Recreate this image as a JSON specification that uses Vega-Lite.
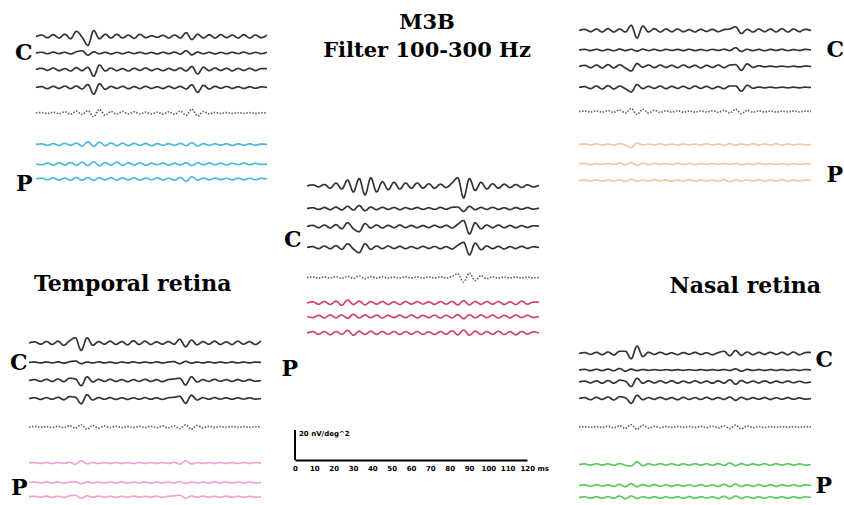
{
"$schema": "https://vega.github.io/schema/vega-lite/v6.json",
"autosize": {"type": "pad"},
"padding": {"left": 9, "top": 0, "right": 0, "bottom": 0},
"background": "white",
"config": {
  "view": {"stroke": null},
  "axisY": {"ticks": false, "domain": false, "grid": false, "labelFont": "DejaVu Serif", "labelFontWeight": "bold", "labelFontSize": 22, "labelColor": "black"}
},
"datasets": {
"tl": [
{"ms":0,"k1":109,"k2":98,"k3":87,"k4":75,"k5":58,"k6":37,"k7":24,"k8":14},
{"ms":3,"k1":110,"k2":98.5,"k3":87.8,"k4":75.6,"k5":58.3,"k6":37.4,"k7":23.5,"k8":14.6},
{"ms":6,"k1":108.2,"k2":97.5,"k3":86.4,"k4":74.2,"k5":57.7,"k6":36.5,"k7":24.6,"k8":13.5},
{"ms":9,"k1":110.2,"k2":98.6,"k3":88,"k4":75.8,"k5":58.5,"k6":37.6,"k7":23.3,"k8":14.8},
{"ms":12,"k1":108,"k2":97.6,"k3":86.2,"k4":74.4,"k5":57.5,"k6":36.4,"k7":24.8,"k8":13.3},
{"ms":15,"k1":110.5,"k2":98.5,"k3":87.6,"k4":76,"k5":58.8,"k6":37.8,"k7":23.4,"k8":14.6},
{"ms":18,"k1":107.5,"k2":97.4,"k3":86,"k4":74.2,"k5":57.2,"k6":36.4,"k7":25,"k8":13.2},
{"ms":21,"k1":112.5,"k2":98.8,"k3":88.2,"k4":76,"k5":59.2,"k6":38,"k7":23.2,"k8":15},
{"ms":24,"k1":108.5,"k2":99.5,"k3":86.2,"k4":74,"k5":57,"k6":36,"k7":25.2,"k8":13.2},
{"ms":27,"k1":103,"k2":96.5,"k3":88.5,"k4":77,"k5":59.5,"k6":38.8,"k7":23,"k8":15},
{"ms":30,"k1":113,"k2":98.8,"k3":82.5,"k4":70.5,"k5":55.5,"k6":35.8,"k7":25.5,"k8":13.1},
{"ms":33,"k1":107.5,"k2":97.5,"k3":90,"k4":77.5,"k5":60.5,"k6":38.5,"k7":22.8,"k8":14.8},
{"ms":36,"k1":110.5,"k2":98.5,"k3":86,"k4":73.8,"k5":56.5,"k6":36.2,"k7":25,"k8":13.4},
{"ms":39,"k1":108,"k2":97.4,"k3":88,"k4":75.8,"k5":59,"k6":38,"k7":23.2,"k8":14.9},
{"ms":42,"k1":110.5,"k2":98.4,"k3":86.2,"k4":74.4,"k5":57.2,"k6":36.2,"k7":25.2,"k8":13.2},
{"ms":45,"k1":108,"k2":97.5,"k3":87.6,"k4":75.8,"k5":59,"k6":37.9,"k7":23,"k8":14.7},
{"ms":48,"k1":110,"k2":98.6,"k3":86,"k4":74.2,"k5":57.4,"k6":36.3,"k7":24.8,"k8":13.4},
{"ms":51,"k1":107.8,"k2":97.6,"k3":87.8,"k4":75.6,"k5":58.8,"k6":37.8,"k7":23.4,"k8":14.8},
{"ms":54,"k1":110.5,"k2":98.5,"k3":86.4,"k4":74.3,"k5":57.5,"k6":36.4,"k7":24.7,"k8":13.3},
{"ms":57,"k1":108.2,"k2":97.5,"k3":88,"k4":75.8,"k5":58.6,"k6":37.7,"k7":23.2,"k8":14.6},
{"ms":60,"k1":109.5,"k2":98.4,"k3":86.3,"k4":74.4,"k5":57.4,"k6":36.2,"k7":24.6,"k8":13.5},
{"ms":63,"k1":108.5,"k2":97.4,"k3":87.6,"k4":75.5,"k5":58.5,"k6":37.6,"k7":23.5,"k8":14.7},
{"ms":66,"k1":109.8,"k2":98.5,"k3":86.2,"k4":74.3,"k5":57.3,"k6":36.5,"k7":24.6,"k8":13.4},
{"ms":69,"k1":108,"k2":97.6,"k3":87.7,"k4":75.8,"k5":58.8,"k6":37.6,"k7":23.3,"k8":14.5},
{"ms":72,"k1":110,"k2":98.6,"k3":86.4,"k4":74.4,"k5":57.2,"k6":36.4,"k7":24.5,"k8":13.2},
{"ms":75,"k1":108,"k2":97.2,"k3":88,"k4":75.8,"k5":59.2,"k6":37.7,"k7":23.4,"k8":15},
{"ms":78,"k1":111.5,"k2":99.5,"k3":86,"k4":74,"k5":56.5,"k6":36.2,"k7":24.8,"k8":12.5},
{"ms":81,"k1":107,"k2":96.8,"k3":89,"k4":76.8,"k5":60.5,"k6":38.2,"k7":23,"k8":15.5},
{"ms":84,"k1":110.5,"k2":98.6,"k3":84,"k4":71.8,"k5":56,"k6":36,"k7":24.9,"k8":13.2},
{"ms":87,"k1":108,"k2":97.5,"k3":88.5,"k4":76.5,"k5":59,"k6":37.6,"k7":23.4,"k8":14.6},
{"ms":90,"k1":110.2,"k2":98.5,"k3":86.2,"k4":74,"k5":57.4,"k6":36.5,"k7":24.7,"k8":13.5},
{"ms":93,"k1":108,"k2":97.4,"k3":88,"k4":75.8,"k5":58.4,"k6":37.5,"k7":23.5,"k8":14.6},
{"ms":96,"k1":110.2,"k2":98.4,"k3":86.4,"k4":74.5,"k5":57.7,"k6":36.6,"k7":24.6,"k8":13.6},
{"ms":99,"k1":108.2,"k2":97.5,"k3":87.8,"k4":75.7,"k5":58.3,"k6":37.5,"k7":23.4,"k8":14.5},
{"ms":102,"k1":110,"k2":98.5,"k3":86.1,"k4":74.4,"k5":57.7,"k6":36.4,"k7":24.5,"k8":13.4},
{"ms":105,"k1":108,"k2":97.6,"k3":87.7,"k4":75.5,"k5":58.2,"k6":37.4,"k7":23.6,"k8":14.5},
{"ms":108,"k1":110.2,"k2":98.6,"k3":86.4,"k4":74.4,"k5":57.8,"k6":36.5,"k7":24.6,"k8":13.6},
{"ms":111,"k1":108,"k2":97.5,"k3":87.8,"k4":75.5,"k5":58.2,"k6":37.4,"k7":23.5,"k8":14.5},
{"ms":114,"k1":110,"k2":98.4,"k3":86.3,"k4":74.5,"k5":57.8,"k6":36.6,"k7":24.4,"k8":13.5},
{"ms":117,"k1":108.2,"k2":97.6,"k3":87.6,"k4":75.4,"k5":58.2,"k6":37.3,"k7":23.7,"k8":14.4},
{"ms":120,"k1":110,"k2":98.5,"k3":87.5,"k4":75,"k5":58,"k6":37,"k7":24,"k8":14}
],
"ct": [
{"ms":0,"k1":106,"k2":91,"k3":79,"k4":65,"k5":45,"k6":28,"k7":19,"k8":8},
{"ms":3,"k1":106.8,"k2":91.5,"k3":79.8,"k4":65.6,"k5":45.3,"k6":28.8,"k7":18.3,"k8":8.9},
{"ms":6,"k1":105.4,"k2":90.4,"k3":78.2,"k4":64.2,"k5":44.7,"k6":27.2,"k7":19.8,"k8":7.2},
{"ms":9,"k1":107,"k2":91.7,"k3":80,"k4":66,"k5":45.4,"k6":29,"k7":18.1,"k8":9},
{"ms":12,"k1":104.5,"k2":90.2,"k3":78,"k4":64.2,"k5":44.6,"k6":27,"k7":20,"k8":6.8},
{"ms":15,"k1":108,"k2":91.9,"k3":80.2,"k4":66.2,"k5":45.5,"k6":29.2,"k7":18.2,"k8":9},
{"ms":18,"k1":104,"k2":90,"k3":77.5,"k4":63.8,"k5":44.5,"k6":26.5,"k7":20,"k8":7.1},
{"ms":21,"k1":110,"k2":92.5,"k3":81.5,"k4":67.5,"k5":45.8,"k6":30,"k7":17.8,"k8":9.8},
{"ms":24,"k1":102,"k2":90,"k3":77.5,"k4":64,"k5":44.4,"k6":27,"k7":20.5,"k8":6.5},
{"ms":27,"k1":111,"k2":93,"k3":75.5,"k4":61.5,"k5":46,"k6":29.2,"k7":18,"k8":9.2},
{"ms":30,"k1":100,"k2":89.5,"k3":81,"k4":67.5,"k5":44.2,"k6":26.8,"k7":20,"k8":7},
{"ms":33,"k1":111.5,"k2":92,"k3":78,"k4":63.8,"k5":45.6,"k6":29,"k7":18.2,"k8":9.2},
{"ms":36,"k1":102,"k2":90.2,"k3":80,"k4":66,"k5":44.6,"k6":27.2,"k7":19.9,"k8":7.1},
{"ms":39,"k1":109,"k2":91.8,"k3":78,"k4":64.2,"k5":45.5,"k6":29,"k7":18,"k8":9},
{"ms":42,"k1":103.5,"k2":90.4,"k3":79.8,"k4":66,"k5":44.6,"k6":27,"k7":19.8,"k8":7.2},
{"ms":45,"k1":108.5,"k2":91.7,"k3":78.2,"k4":64.3,"k5":45.3,"k6":28.8,"k7":18.3,"k8":9},
{"ms":48,"k1":104,"k2":90.2,"k3":80,"k4":65.8,"k5":44.7,"k6":27,"k7":19.9,"k8":7},
{"ms":51,"k1":108,"k2":91.6,"k3":78.2,"k4":64.2,"k5":45.4,"k6":29,"k7":18.2,"k8":8.9},
{"ms":54,"k1":104.5,"k2":90.5,"k3":79.7,"k4":65.6,"k5":44.7,"k6":27.2,"k7":20,"k8":7.2},
{"ms":57,"k1":108,"k2":91.7,"k3":78.2,"k4":64.3,"k5":45.3,"k6":28.9,"k7":18.1,"k8":9},
{"ms":60,"k1":104.5,"k2":90.4,"k3":79.6,"k4":65.8,"k5":44.7,"k6":27.3,"k7":19.8,"k8":7.1},
{"ms":63,"k1":107.5,"k2":91.5,"k3":78.3,"k4":64.4,"k5":45.3,"k6":28.8,"k7":18.3,"k8":8.8},
{"ms":66,"k1":104.5,"k2":90.4,"k3":79.8,"k4":65.7,"k5":44.7,"k6":27.1,"k7":19.9,"k8":7},
{"ms":69,"k1":107.2,"k2":91.7,"k3":78.4,"k4":64.2,"k5":45.4,"k6":29,"k7":18,"k8":9},
{"ms":72,"k1":105,"k2":90.5,"k3":79.8,"k4":65.6,"k5":44.6,"k6":27.2,"k7":19.8,"k8":7.2},
{"ms":75,"k1":108,"k2":91.8,"k3":78,"k4":64,"k5":45.8,"k6":29,"k7":18.1,"k8":9.5},
{"ms":78,"k1":111.5,"k2":92,"k3":80.5,"k4":66.5,"k5":47.5,"k6":26.8,"k7":20.2,"k8":6.8},
{"ms":81,"k1":98,"k2":89,"k3":83,"k4":68.5,"k5":42,"k6":29.5,"k7":17.5,"k8":10},
{"ms":84,"k1":111,"k2":92.5,"k3":74,"k4":60,"k5":48,"k6":26.8,"k7":20.2,"k8":6.5},
{"ms":87,"k1":103,"k2":90.2,"k3":81.5,"k4":68,"k5":43,"k6":29,"k7":18.1,"k8":9.2},
{"ms":90,"k1":108.5,"k2":91.7,"k3":77.5,"k4":63.5,"k5":46.2,"k6":27.1,"k7":20,"k8":7},
{"ms":93,"k1":104,"k2":90.4,"k3":80,"k4":66,"k5":44.2,"k6":29,"k7":18.2,"k8":9},
{"ms":96,"k1":107.5,"k2":91.8,"k3":78.2,"k4":64.2,"k5":45.5,"k6":27.2,"k7":19.9,"k8":7.1},
{"ms":99,"k1":104.5,"k2":90.4,"k3":80,"k4":65.8,"k5":44.6,"k6":29,"k7":18,"k8":9.2},
{"ms":102,"k1":107.2,"k2":91.5,"k3":78.2,"k4":64,"k5":45.3,"k6":27,"k7":19.8,"k8":7},
{"ms":105,"k1":105,"k2":90.3,"k3":79.7,"k4":65.6,"k5":44.7,"k6":28.8,"k7":18.1,"k8":8.9},
{"ms":108,"k1":107,"k2":91.6,"k3":78.2,"k4":64.3,"k5":45.3,"k6":27,"k7":20,"k8":6.8},
{"ms":111,"k1":105,"k2":90.5,"k3":79.6,"k4":65.8,"k5":44.7,"k6":29.2,"k7":18.3,"k8":9},
{"ms":114,"k1":106.8,"k2":91.6,"k3":78.4,"k4":64.4,"k5":45.3,"k6":27.2,"k7":19.8,"k8":7.2},
{"ms":117,"k1":105.4,"k2":90.6,"k3":79.5,"k4":65.5,"k5":44.8,"k6":28.6,"k7":18.4,"k8":8.8},
{"ms":120,"k1":106.5,"k2":91.3,"k3":79.3,"k4":65,"k5":45,"k6":28.5,"k7":19,"k8":8}
],
"tr": [
{"ms":0,"k1":113,"k2":100,"k3":89,"k4":75,"k5":59,"k6":37,"k7":24,"k8":13},
{"ms":3,"k1":113.8,"k2":100.4,"k3":89.8,"k4":75.6,"k5":59.3,"k6":37.3,"k7":24.3,"k8":13.3},
{"ms":6,"k1":112.2,"k2":99.6,"k3":88.2,"k4":74.2,"k5":58.7,"k6":36.7,"k7":23.6,"k8":12.7},
{"ms":9,"k1":114,"k2":100.5,"k3":90,"k4":76,"k5":59.4,"k6":37.4,"k7":24.3,"k8":13.4},
{"ms":12,"k1":112,"k2":99.5,"k3":88,"k4":74,"k5":58.6,"k6":36.7,"k7":23.7,"k8":12.6},
{"ms":15,"k1":114.2,"k2":100.4,"k3":90.2,"k4":76.2,"k5":59.6,"k6":37.3,"k7":24.4,"k8":13.3},
{"ms":18,"k1":112,"k2":99.5,"k3":88,"k4":74,"k5":58.4,"k6":36.6,"k7":23.7,"k8":12.7},
{"ms":21,"k1":114,"k2":100.6,"k3":90.2,"k4":76,"k5":60,"k6":37.5,"k7":24.6,"k8":13.5},
{"ms":24,"k1":112,"k2":99.6,"k3":88,"k4":74.2,"k5":58,"k6":36.7,"k7":23.5,"k8":12.4},
{"ms":27,"k1":116.5,"k2":100.5,"k3":86,"k4":72,"k5":61,"k6":35,"k7":25,"k8":13.8},
{"ms":30,"k1":108,"k2":99.2,"k3":91,"k4":77,"k5":57,"k6":38,"k7":23,"k8":12.5},
{"ms":33,"k1":116,"k2":100.6,"k3":88.5,"k4":74.2,"k5":60.5,"k6":36.7,"k7":24.5,"k8":13.3},
{"ms":36,"k1":112,"k2":99.6,"k3":90,"k4":75.8,"k5":58,"k6":37.3,"k7":23.7,"k8":12.7},
{"ms":39,"k1":114.2,"k2":100.4,"k3":88.2,"k4":74.4,"k5":59.8,"k6":36.7,"k7":24.4,"k8":13.4},
{"ms":42,"k1":112,"k2":99.5,"k3":90,"k4":76,"k5":58.4,"k6":37.4,"k7":23.7,"k8":12.7},
{"ms":45,"k1":114,"k2":100.4,"k3":88.4,"k4":74.2,"k5":59.5,"k6":36.7,"k7":24.3,"k8":13.3},
{"ms":48,"k1":112.2,"k2":99.7,"k3":89.8,"k4":75.8,"k5":58.6,"k6":37.3,"k7":23.7,"k8":12.6},
{"ms":51,"k1":114,"k2":100.4,"k3":88.2,"k4":74.4,"k5":59.5,"k6":36.6,"k7":24.4,"k8":13.3},
{"ms":54,"k1":112.2,"k2":99.6,"k3":90,"k4":75.8,"k5":58.6,"k6":37.3,"k7":23.7,"k8":12.7},
{"ms":57,"k1":113.6,"k2":100.5,"k3":88.4,"k4":74.2,"k5":59.3,"k6":36.7,"k7":24.3,"k8":13.4},
{"ms":60,"k1":112,"k2":99.6,"k3":89.8,"k4":76,"k5":58.6,"k6":37.3,"k7":23.6,"k8":12.7},
{"ms":63,"k1":113.8,"k2":100.3,"k3":88,"k4":74.4,"k5":59.4,"k6":36.7,"k7":24.3,"k8":13.3},
{"ms":66,"k1":112.4,"k2":99.6,"k3":89.8,"k4":75.8,"k5":58.7,"k6":37.4,"k7":23.7,"k8":12.7},
{"ms":69,"k1":113.8,"k2":100.4,"k3":88.4,"k4":74.2,"k5":59.5,"k6":36.7,"k7":24.4,"k8":13.3},
{"ms":72,"k1":112.2,"k2":99.7,"k3":90,"k4":75.6,"k5":58.5,"k6":37.3,"k7":23.7,"k8":12.6},
{"ms":75,"k1":113.6,"k2":100.5,"k3":88.2,"k4":74.2,"k5":59.8,"k6":36.5,"k7":24.3,"k8":13.6},
{"ms":78,"k1":114,"k2":99.6,"k3":90,"k4":76,"k5":58,"k6":37.6,"k7":23.7,"k8":12.2},
{"ms":81,"k1":115.5,"k2":101.5,"k3":90.2,"k4":76,"k5":60.5,"k6":36.6,"k7":24.4,"k8":13.5},
{"ms":84,"k1":111,"k2":99,"k3":86.5,"k4":72.5,"k5":57.5,"k6":37.3,"k7":23.6,"k8":12.7},
{"ms":87,"k1":113.8,"k2":100.5,"k3":90.8,"k4":76.5,"k5":59.8,"k6":36.7,"k7":24.3,"k8":13.3},
{"ms":90,"k1":112,"k2":99.6,"k3":88.4,"k4":74.5,"k5":58.5,"k6":37.4,"k7":23.7,"k8":12.7},
{"ms":93,"k1":114,"k2":100.4,"k3":89.5,"k4":75.3,"k5":59.4,"k6":36.7,"k7":24.4,"k8":13.4},
{"ms":96,"k1":112.2,"k2":99.5,"k3":88.8,"k4":74.8,"k5":58.7,"k6":37.3,"k7":23.7,"k8":12.7},
{"ms":99,"k1":114,"k2":100.4,"k3":89.2,"k4":75.2,"k5":59.3,"k6":36.7,"k7":24.3,"k8":13.3},
{"ms":102,"k1":112,"k2":99.7,"k3":88.8,"k4":74.8,"k5":58.7,"k6":37.4,"k7":23.7,"k8":12.7},
{"ms":105,"k1":114.2,"k2":100.5,"k3":89.2,"k4":75.2,"k5":59.2,"k6":36.7,"k7":24.3,"k8":13.4},
{"ms":108,"k1":112,"k2":99.6,"k3":88.8,"k4":74.8,"k5":58.8,"k6":37.3,"k7":23.6,"k8":12.7},
{"ms":111,"k1":114,"k2":100.3,"k3":89.2,"k4":75.2,"k5":59.3,"k6":36.7,"k7":24.3,"k8":13.3},
{"ms":114,"k1":112.2,"k2":99.7,"k3":88.7,"k4":74.8,"k5":58.8,"k6":37.3,"k7":23.7,"k8":12.7},
{"ms":117,"k1":113.8,"k2":100.4,"k3":89.3,"k4":75.2,"k5":59.2,"k6":36.8,"k7":24.3,"k8":13.3},
{"ms":120,"k1":113,"k2":100,"k3":89,"k4":75,"k5":59,"k6":37,"k7":24,"k8":13}
],
"bl": [
{"ms":0,"k1":108,"k2":95,"k3":83,"k4":71,"k5":52,"k6":28,"k7":15,"k8":5.5},
{"ms":3,"k1":108.8,"k2":95.3,"k3":83.6,"k4":71.5,"k5":52.3,"k6":28.3,"k7":15.3,"k8":5.8},
{"ms":6,"k1":107.2,"k2":94.7,"k3":82.4,"k4":70.4,"k5":51.8,"k6":27.7,"k7":14.7,"k8":5.2},
{"ms":9,"k1":109,"k2":95.4,"k3":83.8,"k4":71.6,"k5":52.3,"k6":28.3,"k7":15.4,"k8":5.9},
{"ms":12,"k1":107,"k2":94.7,"k3":82.4,"k4":70.5,"k5":51.7,"k6":27.7,"k7":14.7,"k8":5.1},
{"ms":15,"k1":109.2,"k2":95.4,"k3":84,"k4":71.8,"k5":52.4,"k6":28.3,"k7":15.3,"k8":5.8},
{"ms":18,"k1":106.5,"k2":94.6,"k3":82.2,"k4":70.2,"k5":51.6,"k6":27.7,"k7":14.6,"k8":5.1},
{"ms":21,"k1":109.5,"k2":95.5,"k3":84.5,"k4":72.2,"k5":52.8,"k6":28.5,"k7":15.3,"k8":6.1},
{"ms":24,"k1":111.5,"k2":96,"k3":84,"k4":71.8,"k5":51.2,"k6":27.2,"k7":15.5,"k8":6.5},
{"ms":27,"k1":103,"k2":94.2,"k3":79.5,"k4":67.5,"k5":53.5,"k6":29.5,"k7":14.2,"k8":4.5},
{"ms":30,"k1":111.5,"k2":95.3,"k3":85.5,"k4":73.5,"k5":50.5,"k6":27.5,"k7":15.4,"k8":6.1},
{"ms":33,"k1":106.5,"k2":94.7,"k3":82,"k4":70,"k5":53,"k6":28.3,"k7":14.7,"k8":5.2},
{"ms":36,"k1":109,"k2":95.4,"k3":83.8,"k4":71.6,"k5":51.2,"k6":27.7,"k7":15.3,"k8":5.9},
{"ms":39,"k1":107.2,"k2":94.7,"k3":82.4,"k4":70.5,"k5":52.6,"k6":28.3,"k7":14.7,"k8":5.2},
{"ms":42,"k1":109.2,"k2":95.3,"k3":83.8,"k4":71.6,"k5":51.6,"k6":27.7,"k7":15.3,"k8":5.8},
{"ms":45,"k1":107,"k2":94.6,"k3":82.4,"k4":70.4,"k5":52.5,"k6":28.3,"k7":14.7,"k8":5.1},
{"ms":48,"k1":109,"k2":95.3,"k3":83.6,"k4":71.5,"k5":51.6,"k6":27.7,"k7":15.4,"k8":5.8},
{"ms":51,"k1":106.8,"k2":94.7,"k3":82.2,"k4":70.4,"k5":52.3,"k6":28.3,"k7":14.7,"k8":5.2},
{"ms":54,"k1":109.5,"k2":95.4,"k3":83.6,"k4":71.5,"k5":51.7,"k6":27.7,"k7":15.3,"k8":5.9},
{"ms":57,"k1":107,"k2":94.7,"k3":82.4,"k4":70.5,"k5":52.4,"k6":28.3,"k7":14.7,"k8":5.2},
{"ms":60,"k1":109.2,"k2":95.3,"k3":83.8,"k4":71.6,"k5":51.6,"k6":27.7,"k7":15.3,"k8":5.8},
{"ms":63,"k1":107,"k2":94.7,"k3":82.4,"k4":70.5,"k5":52.5,"k6":28.3,"k7":14.6,"k8":5.2},
{"ms":66,"k1":108.8,"k2":95.4,"k3":83.6,"k4":71.5,"k5":51.5,"k6":27.7,"k7":15.3,"k8":5.9},
{"ms":69,"k1":107.2,"k2":94.7,"k3":82.2,"k4":70.4,"k5":52.6,"k6":28.3,"k7":14.7,"k8":5.1},
{"ms":72,"k1":109,"k2":95.3,"k3":83.6,"k4":71.5,"k5":51.4,"k6":27.7,"k7":15.3,"k8":5.8},
{"ms":75,"k1":107.2,"k2":95.6,"k3":84,"k4":71.8,"k5":52.8,"k6":28.5,"k7":14.7,"k8":6.1},
{"ms":78,"k1":110.5,"k2":94.2,"k3":84.5,"k4":72.5,"k5":51,"k6":27.2,"k7":15.6,"k8":6.5},
{"ms":81,"k1":105.5,"k2":95.8,"k3":80,"k4":67.8,"k5":53.5,"k6":29.5,"k7":14.4,"k8":4.5},
{"ms":84,"k1":110,"k2":94.6,"k3":85.5,"k4":73.2,"k5":50.5,"k6":27.4,"k7":15.3,"k8":6},
{"ms":87,"k1":106.8,"k2":95.3,"k3":82,"k4":70,"k5":53,"k6":28.3,"k7":14.7,"k8":5.2},
{"ms":90,"k1":109,"k2":94.7,"k3":83.6,"k4":71.6,"k5":51.4,"k6":27.7,"k7":15.3,"k8":5.9},
{"ms":93,"k1":107.2,"k2":95.4,"k3":82.4,"k4":70.5,"k5":52.4,"k6":28.3,"k7":14.7,"k8":5.2},
{"ms":96,"k1":109.2,"k2":94.7,"k3":83.8,"k4":71.6,"k5":51.7,"k6":27.7,"k7":15.4,"k8":5.8},
{"ms":99,"k1":107,"k2":95.3,"k3":82.5,"k4":70.6,"k5":52.3,"k6":28.3,"k7":14.7,"k8":5.2},
{"ms":102,"k1":108.8,"k2":94.7,"k3":83.6,"k4":71.5,"k5":51.7,"k6":27.7,"k7":15.3,"k8":5.9},
{"ms":105,"k1":107,"k2":95.4,"k3":82.4,"k4":70.5,"k5":52.2,"k6":28.3,"k7":14.7,"k8":5.2},
{"ms":108,"k1":109.2,"k2":94.7,"k3":83.6,"k4":71.5,"k5":51.8,"k6":27.7,"k7":15.3,"k8":5.8},
{"ms":111,"k1":107.2,"k2":95.3,"k3":82.5,"k4":70.6,"k5":52.2,"k6":28.3,"k7":14.7,"k8":5.2},
{"ms":114,"k1":109,"k2":94.7,"k3":83.6,"k4":71.5,"k5":51.8,"k6":27.7,"k7":15.3,"k8":5.8},
{"ms":117,"k1":107,"k2":95.3,"k3":82.5,"k4":70.6,"k5":52.2,"k6":28.3,"k7":14.7,"k8":5.2},
{"ms":120,"k1":109.5,"k2":95,"k3":83,"k4":71,"k5":52,"k6":28,"k7":15,"k8":5.5}
],
"br": [
{"ms":0,"k1":101,"k2":90,"k3":82,"k4":71,"k5":52,"k6":27,"k7":13,"k8":5},
{"ms":3,"k1":101.6,"k2":90.4,"k3":82.6,"k4":71.6,"k5":52.2,"k6":27.4,"k7":13.4,"k8":5.4},
{"ms":6,"k1":100.4,"k2":89.6,"k3":81.4,"k4":70.2,"k5":51.8,"k6":26.6,"k7":12.5,"k8":4.6},
{"ms":9,"k1":101.8,"k2":90.5,"k3":82.8,"k4":71.8,"k5":52.3,"k6":27.5,"k7":13.6,"k8":5.5},
{"ms":12,"k1":100.2,"k2":89.6,"k3":81.2,"k4":70.4,"k5":51.7,"k6":26.6,"k7":12.6,"k8":4.5},
{"ms":15,"k1":102,"k2":90.6,"k3":83,"k4":72,"k5":52.4,"k6":27.5,"k7":13.5,"k8":5.6},
{"ms":18,"k1":100,"k2":89.5,"k3":81.2,"k4":70,"k5":51.5,"k6":26.5,"k7":12.4,"k8":4.5},
{"ms":21,"k1":102.5,"k2":91,"k3":83.2,"k4":72.2,"k5":52.8,"k6":27.6,"k7":13.8,"k8":6},
{"ms":24,"k1":102.5,"k2":89.2,"k3":82.5,"k4":71.5,"k5":51,"k6":26.5,"k7":12.2,"k8":4.2},
{"ms":27,"k1":97.5,"k2":90.6,"k3":79,"k4":67.8,"k5":53.5,"k6":26,"k7":14.2,"k8":6},
{"ms":30,"k1":106,"k2":89.6,"k3":84.5,"k4":73.2,"k5":50.5,"k6":28.8,"k7":12.2,"k8":4.4},
{"ms":33,"k1":99,"k2":90.3,"k3":81.2,"k4":70.2,"k5":53.2,"k6":26.2,"k7":13.6,"k8":5.5},
{"ms":36,"k1":101.8,"k2":89.8,"k3":82.8,"k4":71.6,"k5":51.2,"k6":27.5,"k7":12.5,"k8":4.6},
{"ms":39,"k1":100.4,"k2":90.2,"k3":81.4,"k4":70.4,"k5":52.5,"k6":26.6,"k7":13.6,"k8":5.5},
{"ms":42,"k1":101.8,"k2":89.8,"k3":82.8,"k4":71.8,"k5":51.6,"k6":27.5,"k7":12.5,"k8":4.5},
{"ms":45,"k1":100.4,"k2":90.2,"k3":81.4,"k4":70.4,"k5":52.3,"k6":26.6,"k7":13.5,"k8":5.4},
{"ms":48,"k1":101.5,"k2":89.8,"k3":82.8,"k4":71.6,"k5":51.7,"k6":27.5,"k7":12.4,"k8":4.6},
{"ms":51,"k1":100.2,"k2":90.2,"k3":81.2,"k4":70.2,"k5":52.3,"k6":26.5,"k7":13.5,"k8":5.5},
{"ms":54,"k1":101.6,"k2":89.8,"k3":82.6,"k4":71.8,"k5":51.7,"k6":27.4,"k7":12.6,"k8":4.5},
{"ms":57,"k1":100.5,"k2":90.2,"k3":81.4,"k4":70.4,"k5":52.3,"k6":26.6,"k7":13.5,"k8":5.6},
{"ms":60,"k1":101.8,"k2":89.8,"k3":82.8,"k4":71.6,"k5":51.7,"k6":27.5,"k7":12.5,"k8":4.5},
{"ms":63,"k1":100.4,"k2":90.2,"k3":81.4,"k4":70.4,"k5":52.4,"k6":26.6,"k7":13.6,"k8":5.5},
{"ms":66,"k1":101.5,"k2":89.8,"k3":82.6,"k4":71.8,"k5":51.6,"k6":27.5,"k7":12.5,"k8":4.6},
{"ms":69,"k1":100.2,"k2":90.2,"k3":81.2,"k4":70.4,"k5":52.5,"k6":26.5,"k7":13.5,"k8":5.5},
{"ms":72,"k1":101.6,"k2":89.8,"k3":82.8,"k4":71.6,"k5":51.4,"k6":27.6,"k7":12.4,"k8":4.4},
{"ms":75,"k1":102.5,"k2":90.3,"k3":81.2,"k4":70.4,"k5":52.8,"k6":26.4,"k7":13.8,"k8":5.8},
{"ms":78,"k1":99.5,"k2":89.7,"k3":83.5,"k4":72,"k5":51,"k6":28,"k7":12.2,"k8":4.2},
{"ms":81,"k1":103,"k2":90.8,"k3":80.5,"k4":69.8,"k5":53.2,"k6":26.2,"k7":14,"k8":6},
{"ms":84,"k1":99.8,"k2":89.2,"k3":83,"k4":71.8,"k5":50.8,"k6":27.6,"k7":12.4,"k8":4.4},
{"ms":87,"k1":102,"k2":90.4,"k3":81.4,"k4":70.4,"k5":52.8,"k6":26.5,"k7":13.5,"k8":5.6},
{"ms":90,"k1":100.2,"k2":89.7,"k3":82.6,"k4":71.6,"k5":51.5,"k6":27.4,"k7":12.5,"k8":4.5},
{"ms":93,"k1":101.8,"k2":90.3,"k3":81.4,"k4":70.5,"k5":52.3,"k6":26.6,"k7":13.6,"k8":5.5},
{"ms":96,"k1":100.4,"k2":89.7,"k3":82.8,"k4":71.6,"k5":51.7,"k6":27.5,"k7":12.5,"k8":4.5},
{"ms":99,"k1":101.8,"k2":90.3,"k3":81.4,"k4":70.4,"k5":52.2,"k6":26.5,"k7":13.5,"k8":5.6},
{"ms":102,"k1":100.4,"k2":89.7,"k3":82.6,"k4":71.5,"k5":51.8,"k6":27.5,"k7":12.4,"k8":4.5},
{"ms":105,"k1":101.8,"k2":90.3,"k3":81.5,"k4":70.5,"k5":52.2,"k6":26.6,"k7":13.5,"k8":5.5},
{"ms":108,"k1":100.2,"k2":89.7,"k3":82.6,"k4":71.6,"k5":51.8,"k6":27.5,"k7":12.6,"k8":4.5},
{"ms":111,"k1":102,"k2":90.3,"k3":81.5,"k4":70.5,"k5":52.2,"k6":26.6,"k7":13.5,"k8":5.5},
{"ms":114,"k1":100.2,"k2":89.7,"k3":82.5,"k4":71.4,"k5":51.8,"k6":27.4,"k7":12.5,"k8":4.6},
{"ms":117,"k1":101.6,"k2":90.3,"k3":81.5,"k4":70.6,"k5":52.2,"k6":26.6,"k7":13.4,"k8":5.4},
{"ms":120,"k1":101.8,"k2":90,"k3":82,"k4":71,"k5":52,"k6":27,"k7":13,"k8":5}
]
},
"concat": [
  {
    "width": 238, "height": 235,
    "data": {"name": "tl"},
    "transform": [{"fold": ["k1","k2","k3","k4","k5","k6","k7","k8"], "as": ["trace","v"]}],
    "mark": {"type": "line", "interpolate": "monotone", "strokeWidth": 1.7},
    "encoding": {
      "x": {"field": "ms", "type": "quantitative", "scale": {"domain": [-3.6, 120], "nice": false, "zero": false}, "axis": null},
      "y": {"field": "v", "type": "quantitative", "scale": {"domain": [-23.33, 133.33], "nice": false, "zero": false}, "axis": {"orient": "left", "values": [98, 11.3], "labelExpr": "datum.value > 50 ? 'C' : 'P'", "labelPadding": -3, "title": null}},
      "color": {"field": "trace", "type": "nominal", "scale": {"domain": ["k1","k2","k3","k4","k5","k6","k7","k8"], "range": ["#333333","#333333","#333333","#333333","#666666","#4cb8de","#4cb8de","#4cb8de"]}, "legend": null},
      "strokeDash": {"field": "trace", "type": "nominal", "scale": {"domain": ["k1","k2","k3","k4","k5","k6","k7","k8"], "range": [[1,0],[1,0],[1,0],[1,0],[1.5,1.5],[1,0],[1,0],[1,0]]}, "legend": null}
    }
  },
  {
    "width": 256, "height": 340,
    "title": {"text": ["M3B", "Filter 100-300 Hz"], "anchor": "middle", "frame": "group", "baseline": "bottom", "lineHeight": 28, "offset": 0, "dy": 82, "dx": 4, "font": "DejaVu Serif", "fontSize": 21, "fontWeight": "bold", "color": "black"},
    "data": {"name": "ct"},
    "transform": [{"fold": ["k1","k2","k3","k4","k5","k6","k7","k8"], "as": ["trace","v"]}],
    "mark": {"type": "line", "interpolate": "monotone", "strokeWidth": 1.7},
    "encoding": {
      "x": {"field": "ms", "type": "quantitative", "scale": {"domain": [-6.2, 126.2], "nice": false, "zero": false}, "axis": null},
      "y": {"field": "v", "type": "quantitative", "scale": {"domain": [3.33, 230], "nice": false, "zero": false}, "axis": {"orient": "left", "values": [70], "labelExpr": "'C'", "labelPadding": -6, "title": null}},
      "color": {"field": "trace", "type": "nominal", "scale": {"domain": ["k1","k2","k3","k4","k5","k6","k7","k8"], "range": ["#333333","#333333","#333333","#333333","#666666","#d04466","#d04466","#d04466"]}, "legend": null},
      "strokeDash": {"field": "trace", "type": "nominal", "scale": {"domain": ["k1","k2","k3","k4","k5","k6","k7","k8"], "range": [[1,0],[1,0],[1,0],[1,0],[1.5,1.5],[1,0],[1,0],[1,0]]}, "legend": null}
    }
  },
  {
    "width": 232, "height": 235,
    "data": {"name": "tr"},
    "transform": [{"fold": ["k1","k2","k3","k4","k5","k6","k7","k8"], "as": ["trace","v"]}],
    "mark": {"type": "line", "interpolate": "monotone", "strokeWidth": 1.7},
    "encoding": {
      "x": {"field": "ms", "type": "quantitative", "scale": {"domain": [0, 120], "nice": false, "zero": false}, "axis": null},
      "y": {"field": "v", "type": "quantitative", "scale": {"domain": [-23.33, 133.33], "nice": false, "zero": false}, "axis": {"orient": "right", "values": [100, 16.7], "labelExpr": "datum.value > 50 ? 'C' : 'P'", "labelPadding": 15, "title": null}},
      "color": {"field": "trace", "type": "nominal", "scale": {"domain": ["k1","k2","k3","k4","k5","k6","k7","k8"], "range": ["#333333","#333333","#333333","#333333","#666666","#f3c6a5","#f3c6a5","#f3c6a5"]}, "legend": null},
      "strokeDash": {"field": "trace", "type": "nominal", "scale": {"domain": ["k1","k2","k3","k4","k5","k6","k7","k8"], "range": [[1,0],[1,0],[1,0],[1,0],[1.5,1.5],[1,0],[1,0],[1,0]]}, "legend": null}
    }
  },
  {
    "width": 238, "height": 165,
    "title": {"text": "Temporal retina", "anchor": "start", "frame": "group", "baseline": "alphabetic", "offset": 21, "dx": 5, "font": "DejaVu Serif", "fontSize": 22, "fontWeight": "bold", "color": "black"},
    "data": {"name": "bl"},
    "transform": [{"fold": ["k1","k2","k3","k4","k5","k6","k7","k8"], "as": ["trace","v"]}],
    "encoding": {
      "x": {"field": "ms", "type": "quantitative", "scale": {"domain": [0, 123.1], "nice": false, "zero": false}, "axis": null}
    },
    "layer": [
      {
        "mark": {"type": "line", "interpolate": "monotone", "strokeWidth": 1.7},
        "encoding": {
          "y": {"field": "v", "type": "quantitative", "scale": {"domain": [0, 110], "nice": false, "zero": false}, "axis": {"orient": "left", "values": [94.7, 12], "labelExpr": "datum.value > 50 ? 'C' : 'P'", "labelPadding": 2, "title": null}},
          "color": {"field": "trace", "type": "nominal", "scale": {"domain": ["k1","k2","k3","k4","k5","k6","k7","k8"], "range": ["#333333","#333333","#333333","#333333","#666666","#f0a2d6","#f0a2d6","#f0a2d6"]}, "legend": null},
          "strokeDash": {"field": "trace", "type": "nominal", "scale": {"domain": ["k1","k2","k3","k4","k5","k6","k7","k8"], "range": [[1,0],[1,0],[1,0],[1,0],[1.5,1.5],[1,0],[1,0],[1,0]]}, "legend": null}
        }
      },
      {
        "mark": {"type": "point", "opacity": 0},
        "encoding": {
          "y": {"field": "v", "type": "quantitative", "scale": {"domain": [0, 110], "nice": false, "zero": false}, "axis": {"orient": "right", "values": [91.3], "labelExpr": "'P'", "labelPadding": 14, "title": null}}
        }
      }
    ],
    "resolve": {"axis": {"y": "independent"}}
  },
  {
    "width": 232, "height": 120,
    "data": {"values": [{"ms": 0, "nv": 0, "top": 20, "label": "20 nV/deg^2"}]},
    "encoding": {
      "x": {"field": "ms", "type": "quantitative", "scale": {"domain": [0, 120], "nice": false, "zero": false},
            "axis": {"values": [0,10,20,30,40,50,60,70,80,90,100,110,120], "labelExpr": "datum.value == 120 ? '120 ms' : datum.label", "labelAlign": {"condition": {"test": "datum.value == 120", "value": "left"}, "value": "center"}, "labelOffset": {"condition": {"test": "datum.value == 120", "value": -7}, "value": 0}, "labelFlush": false, "labelOverlap": false, "ticks": false, "grid": false, "domain": true, "domainColor": "black", "domainWidth": 2, "labelFont": "DejaVu Sans", "labelFontWeight": "bold", "labelFontSize": 7, "labelColor": "black", "labelPadding": 4, "title": null}}
    },
    "layer": [
      {
        "mark": {"type": "rule", "color": "black", "strokeWidth": 2},
        "encoding": {
          "y": {"field": "nv", "type": "quantitative", "scale": {"domain": [0, 80], "nice": false, "zero": false}, "axis": null},
          "y2": {"field": "top"}
        }
      },
      {
        "mark": {"type": "text", "align": "left", "baseline": "top", "dx": 4, "font": "DejaVu Sans", "fontWeight": "bold", "fontSize": 7, "color": "black"},
        "encoding": {
          "y": {"field": "top", "type": "quantitative", "scale": {"domain": [0, 80], "nice": false, "zero": false}, "axis": null},
          "text": {"field": "label"}
        }
      }
    ]
  },
  {
    "width": 232, "height": 165,
    "title": {"text": "Nasal retina", "anchor": "end", "frame": "group", "baseline": "alphabetic", "offset": 25, "dx": 10, "font": "DejaVu Serif", "fontSize": 22, "fontWeight": "bold", "color": "black"},
    "data": {"name": "br"},
    "transform": [{"fold": ["k1","k2","k3","k4","k5","k6","k7","k8"], "as": ["trace","v"]}],
    "mark": {"type": "line", "interpolate": "monotone", "strokeWidth": 1.7},
    "encoding": {
      "x": {"field": "ms", "type": "quantitative", "scale": {"domain": [0, 120], "nice": false, "zero": false}, "axis": null},
      "y": {"field": "v", "type": "quantitative", "scale": {"domain": [0, 110], "nice": false, "zero": false}, "axis": {"orient": "right", "values": [96.7, 12.7], "labelExpr": "datum.value > 50 ? 'C' : 'P'", "labelPadding": 4, "title": null}},
      "color": {"field": "trace", "type": "nominal", "scale": {"domain": ["k1","k2","k3","k4","k5","k6","k7","k8"], "range": ["#333333","#333333","#333333","#333333","#666666","#5cc85c","#5cc85c","#5cc85c"]}, "legend": null},
      "strokeDash": {"field": "trace", "type": "nominal", "scale": {"domain": ["k1","k2","k3","k4","k5","k6","k7","k8"], "range": [[1,0],[1,0],[1,0],[1,0],[1.5,1.5],[1,0],[1,0],[1,0]]}, "legend": null}
    }
  }
],
"columns": 3,
"align": "none",
"bounds": "flush",
"spacing": {"row": 0, "column": 28},
"resolve": {"scale": {"color": "independent", "strokeDash": "independent", "x": "independent", "y": "independent"}}
}
